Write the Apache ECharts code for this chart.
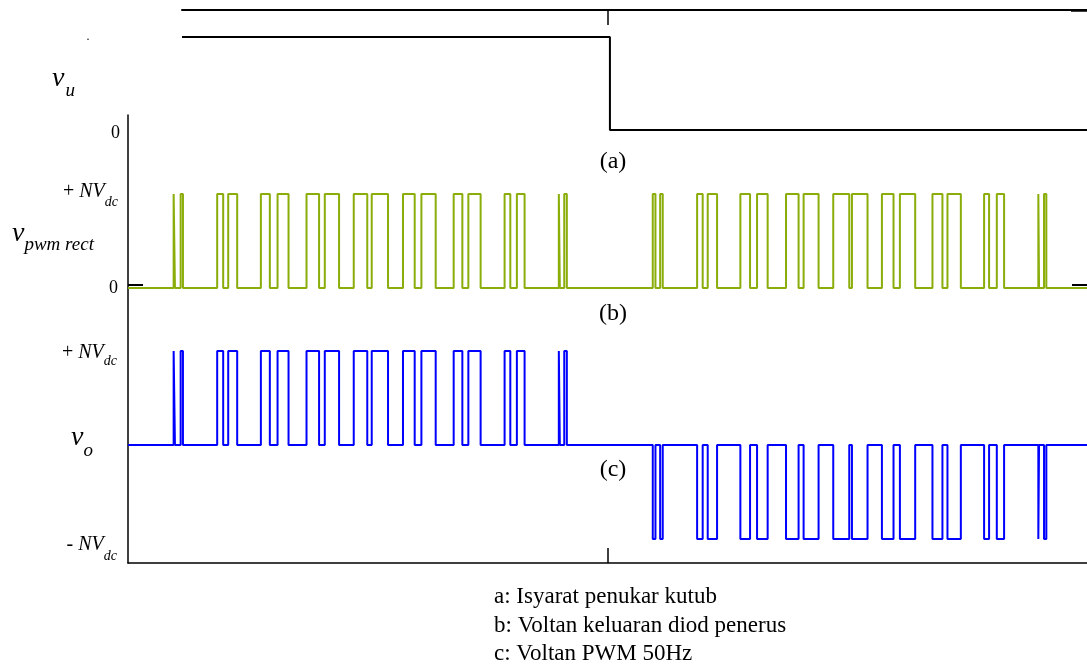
<!DOCTYPE html>
<html>
<head>
<meta charset="utf-8">
<script src="https://cdn.jsdelivr.net/npm/echarts@6/dist/echarts.min.js"></script>
<style>
  html, body { margin: 0; padding: 0; background: #fff; }
  #chart { width: 1087px; height: 669px; }
</style>
</head>
<body>
<div id="chart"></div>
<script>
// Time base in milliseconds (one 50 Hz period)
const periodMs = 20;
const halfPeriodMs = 10;

// Polarity-switch signal v_u: high from its first visible instant until the switch, then 0
const polarityStartMs = 1.125;
const polaritySwitchMs = 10.05;
const polarityHigh = 1;
const polarityLow = 0;
const polarityAxisMax = 1.29;

// PWM pulses of the rectified diode output, [rise, fall] in ms
const rectPulses = [
  [0.952, 0.979], [1.098, 1.146], [1.860, 1.985], [2.090, 2.277], [2.771, 2.958], [3.119, 3.348],
  [3.723, 3.985], [4.104, 4.402], [4.708, 4.990], [5.083, 5.423], [5.735, 5.979], [6.119, 6.417],
  [6.792, 6.973], [7.098, 7.354], [7.854, 7.973], [8.110, 8.271], [8.985, 9.006], [9.098, 9.152],
  [10.944, 11.000], [11.098, 11.152], [11.869, 11.985], [12.090, 12.285], [12.771, 12.973], [13.119, 13.340],
  [13.723, 13.985], [14.090, 14.402], [14.708, 15.042], [15.098, 15.423], [15.723, 15.965], [16.098, 16.417],
  [16.777, 16.985], [17.090, 17.369], [17.854, 17.958], [18.119, 18.271], [18.985, 19.000], [19.104, 19.152]
];

// Output pulse levels: +NVdc before the polarity switch, -NVdc after it
const outLevelBefore = 1;
const outLevelAfter = -1;

// Axis level labels
const rectLevelTicks = [0, 1];
const outLevelTicks = [-1, 1];
const zeroMarkOffset = 0.032;

const SERIF = '"Liberation Serif", "Times New Roman", serif';
const INK = '#000000';
const GREEN = '#8aad0a';
const BLUE = '#0000ff';

// Step waveform built from pulse edges
function stepWave(pulses, levelAt) {
  const pts = [[0, 0]];
  pulses.forEach(([a, b]) => {
    const h = levelAt(a);
    pts.push([a, 0], [a, h], [b, h], [b, 0]);
  });
  pts.push([periodMs, 0]);
  return pts;
}
const rectData = stepWave(rectPulses, () => 1);
const outData = stepWave(rectPulses, t => (t < polaritySwitchMs ? outLevelBefore : outLevelAfter));
const polarityData = [
  [polarityStartMs, polarityHigh], [polaritySwitchMs, polarityHigh],
  [polaritySwitchMs, polarityLow], [periodMs, polarityLow]
];

const txt = (o) => Object.assign({ fontFamily: SERIF, color: INK }, o);
const richLevels = {
  z: txt({ fontSize: 18 }),
  z0: txt({ fontSize: 18, padding: [6, 0, 0, 0] }),
  pa: txt({ fontSize: 20, padding: [0, 0, 4, 0] }),
  na: txt({ fontSize: 20, fontStyle: 'italic', padding: [0, 0, 4, 0] }),
  sa: txt({ fontSize: 14, fontStyle: 'italic', padding: [17, 0, 0, 0] }),
  pb: txt({ fontSize: 20, padding: [4, 0, 0, 0] }),
  nb: txt({ fontSize: 20, fontStyle: 'italic', padding: [4, 0, 0, 0] }),
  sb: txt({ fontSize: 14, fontStyle: 'italic', padding: [21, 0, 0, 0] }),
  pc: txt({ fontSize: 20, padding: [12, 0, 0, 0] }),
  nc: txt({ fontSize: 20, fontStyle: 'italic', padding: [12, 0, 0, 0] }),
  sc: txt({ fontSize: 14, fontStyle: 'italic', padding: [35, 0, 0, 0] })
};

const hiddenX = (gridIndex) => ({
  gridIndex, type: 'value', min: 0, max: periodMs,
  axisLine: { show: false }, axisTick: { show: false }, axisLabel: { show: false }, splitLine: { show: false }
});

const option = {
  animation: false,
  backgroundColor: '#ffffff',
  grid: [
    { left: 182, top: 10, width: 906, height: 120 },   // v_u
    { left: 128, top: 115, width: 960, height: 448 },  // frame
    { left: 128, top: 194, width: 960, height: 94 },   // v_pwm rect
    { left: 128, top: 351, width: 960, height: 188 }   // v_o
  ],
  xAxis: [
    {
      gridIndex: 0, type: 'value', min: polarityStartMs, max: periodMs, position: 'top',
      axisLine: { show: true, onZero: false, lineStyle: { color: INK, width: 2 } },
      axisTick: { show: true, inside: true, length: 15, customValues: [halfPeriodMs], lineStyle: { color: INK, width: 1.5 } },
      axisLabel: { show: false }, splitLine: { show: false }
    },
    {
      gridIndex: 1, type: 'value', min: 0, max: periodMs, position: 'bottom',
      axisLine: { show: true, onZero: false, lineStyle: { color: INK, width: 1.5 } },
      axisTick: { show: true, inside: true, length: 15, customValues: [halfPeriodMs], lineStyle: { color: INK, width: 1.5 } },
      axisLabel: { show: false }, splitLine: { show: false }
    },
    hiddenX(2),
    hiddenX(3)
  ],
  yAxis: [
    {
      gridIndex: 0, type: 'value', min: 0, max: polarityAxisMax, offset: 54,
      axisLine: { show: false }, axisTick: { show: false }, splitLine: { show: false },
      axisLabel: { show: true, customValues: [0], margin: 8, formatter: () => '{z0|0}', rich: richLevels }
    },
    {
      gridIndex: 0, type: 'value', min: 0, max: polarityAxisMax, position: 'right',
      axisLine: { show: false }, splitLine: { show: false }, axisLabel: { show: false },
      axisTick: { show: true, inside: true, length: 16, customValues: [polarityAxisMax - 0.008], lineStyle: { color: INK, width: 2.5 } }
    },
    {
      gridIndex: 1, type: 'value', min: 0, max: 1,
      axisLine: { show: true, onZero: false, lineStyle: { color: INK, width: 1.5 } },
      axisTick: { show: false }, axisLabel: { show: false }, splitLine: { show: false }
    },
    {
      gridIndex: 2, type: 'value', min: 0, max: 1,
      axisLine: { show: false }, splitLine: { show: false },
      axisTick: { show: true, inside: true, length: 15, customValues: [zeroMarkOffset], lineStyle: { color: INK, width: 2 } },
      axisLabel: {
        show: true, customValues: rectLevelTicks, margin: 10, rich: richLevels,
        formatter: v => (v === 0 ? '{z|0}' : '{pa|+ }{na|NV}{sa|dc}')
      }
    },
    {
      gridIndex: 2, type: 'value', min: 0, max: 1, position: 'right',
      axisLine: { show: false }, splitLine: { show: false }, axisLabel: { show: false },
      axisTick: { show: true, inside: true, length: 15, customValues: [zeroMarkOffset], lineStyle: { color: INK, width: 2 } }
    },
    {
      gridIndex: 3, type: 'value', min: -1, max: 1,
      axisLine: { show: false }, axisTick: { show: false }, splitLine: { show: false },
      axisLabel: {
        show: true, customValues: outLevelTicks, margin: 11, rich: richLevels,
        formatter: v => (v > 0 ? '{pb|+ }{nb|NV}{sb|dc}' : '{pc|- }{nc|NV}{sc|dc}')
      }
    }
  ],
  series: [
    {
      name: 'v_u', type: 'line', xAxisIndex: 0, yAxisIndex: 0, data: polarityData,
      showSymbol: false, clip: false, lineStyle: { color: INK, width: 2 }
    },
    {
      name: 'v_pwm rect', type: 'line', xAxisIndex: 2, yAxisIndex: 3, data: rectData,
      showSymbol: false, clip: false, lineStyle: { color: GREEN, width: 2 }
    },
    {
      name: 'v_o', type: 'line', xAxisIndex: 3, yAxisIndex: 5, data: outData,
      showSymbol: false, clip: false, lineStyle: { color: BLUE, width: 2 }
    }
  ],
  graphic: [
    { type: 'text', x: 88, y: 37, style: { text: '.', fontFamily: SERIF, fontSize: 12, fill: INK, align: 'center', verticalAlign: 'middle' } },
    {
      type: 'text', x: 52, y: 78.5,
      style: {
        text: '{v|v}{s|u}', align: 'left', verticalAlign: 'middle',
        rich: { v: txt({ fontSize: 28, fontStyle: 'italic' }), s: txt({ fontSize: 19, fontStyle: 'italic', padding: [24, 0, 0, 1] }) }
      }
    },
    {
      type: 'text', x: 12, y: 233.5,
      style: {
        text: '{v|v}{s|pwm rect}', align: 'left', verticalAlign: 'middle',
        rich: { v: txt({ fontSize: 28, fontStyle: 'italic' }), s: txt({ fontSize: 19, fontStyle: 'italic', padding: [22, 0, 0, 0] }) }
      }
    },
    {
      type: 'text', x: 71, y: 437.5,
      style: {
        text: '{v|v}{s|o}', align: 'left', verticalAlign: 'middle',
        rich: { v: txt({ fontSize: 28, fontStyle: 'italic' }), s: txt({ fontSize: 19, fontStyle: 'italic', padding: [26, 0, 0, 0] }) }
      }
    },
    { type: 'text', x: 613, y: 162, style: { text: '(a)', fontFamily: SERIF, fontSize: 24, fill: INK, align: 'center', verticalAlign: 'middle' } },
    { type: 'text', x: 613, y: 314, style: { text: '(b)', fontFamily: SERIF, fontSize: 24, fill: INK, align: 'center', verticalAlign: 'middle' } },
    { type: 'text', x: 613, y: 470, style: { text: '(c)', fontFamily: SERIF, fontSize: 24, fill: INK, align: 'center', verticalAlign: 'middle' } },
    { type: 'text', x: 494, y: 597, style: { text: 'a: Isyarat penukar kutub', fontFamily: SERIF, fontSize: 23, fill: INK, align: 'left', verticalAlign: 'middle' } },
    { type: 'text', x: 494, y: 625.7, style: { text: 'b: Voltan keluaran diod penerus', fontFamily: SERIF, fontSize: 23, fill: INK, align: 'left', verticalAlign: 'middle' } },
    { type: 'text', x: 494, y: 654, style: { text: 'c: Voltan PWM 50Hz', fontFamily: SERIF, fontSize: 23, fill: INK, align: 'left', verticalAlign: 'middle' } }
  ]
};

const chart = echarts.init(document.getElementById('chart'), null, { renderer: 'canvas' });
chart.setOption(option);
</script>
</body>
</html>
